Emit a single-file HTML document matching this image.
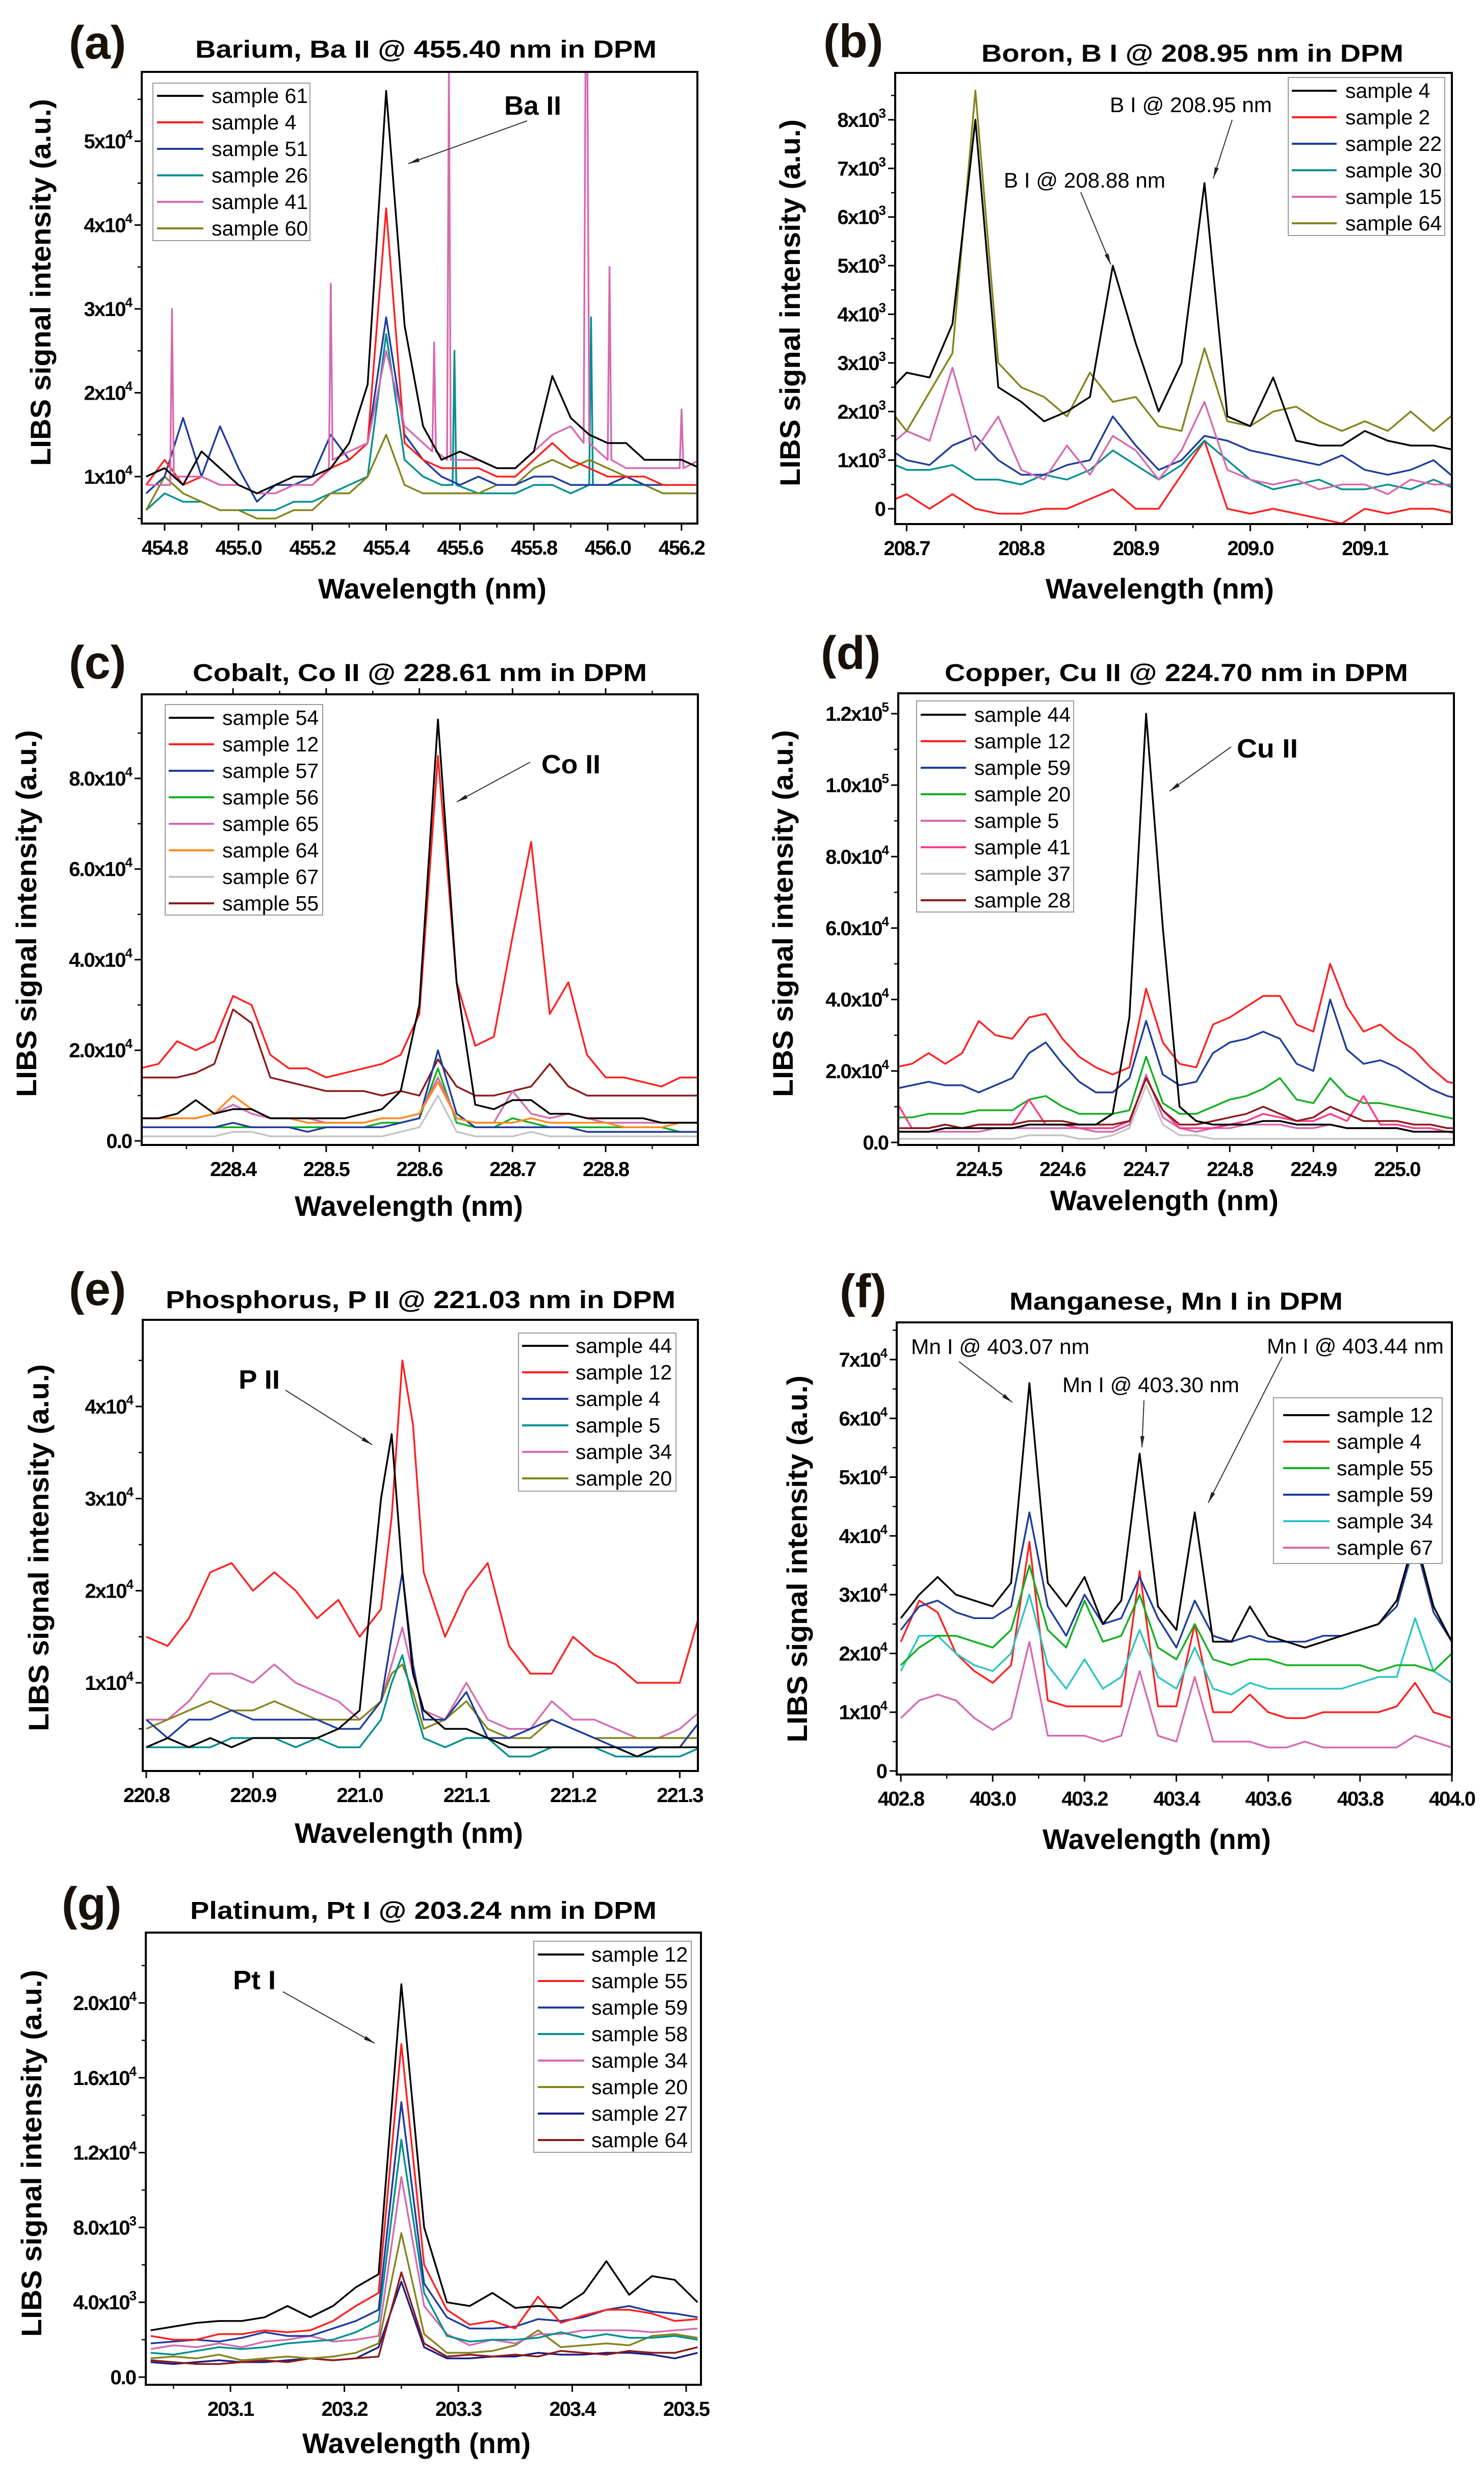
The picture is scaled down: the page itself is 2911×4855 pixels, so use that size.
<!DOCTYPE html>
<html><head><meta charset="utf-8"><style>
html,body{margin:0;padding:0;background:#fff}
svg{display:block}
text{font-family:"Liberation Sans",Arial,sans-serif}
</style></head><body>
<svg id="fig" width="2911" height="4855" viewBox="0 0 2911 4855" xmlns="http://www.w3.org/2000/svg"></svg>
<script>
// ---------- DATA ----------
// Panel a: Barium (x 1e3 units)
const aX=[454.75,454.80,454.85,454.90,454.95,455.00,455.05,455.10,455.15,455.20,455.25,455.30,455.35,455.40,455.45,455.50,455.55,455.60,455.65,455.70,455.75,455.80,455.85,455.90,455.95,456.00,456.05,456.10,456.15,456.20,456.25];
const aNames=["sample 61","sample 4","sample 51","sample 26","sample 41","sample 60"];
const aS61=[10,11,9,13,11,9,8,9,10,10,11,14,21,56,28,16,12,13,12,11,11,13,22,17,15,14,14,12,12,12,11];
const aS4=[9,12,9,10,9,9,8,8,9,9,11,12,14,42,14,12,11,11,11,10,10,12,14,12,11,10,10,10,9,9,9];
const aS51=[8,10,17,10,16,11,7,9,9,10,15,12,14,29,15,12,10,9,10,9,9,10,10,9,9,9,10,9,9,9,9];
const aX26=[454.75,454.80,454.85,454.90,454.95,455.00,455.05,455.10,455.15,455.20,455.25,455.30,455.35,455.40,455.45,455.50,455.55,455.58,455.585,455.59,455.65,455.70,455.75,455.80,455.85,455.90,455.95,455.955,455.96,456.00,456.05,456.10,456.15,456.20,456.25];
const aS26=[6,8,7,7,6,6,6,6,7,7,8,9,10,27,12,10,9,9,25,9,8,8,8,9,9,8,9,29,9,9,9,9,8,8,8];
const aX41=[454.75,454.815,454.82,454.825,454.85,454.90,454.95,455.00,455.05,455.10,455.15,455.20,455.245,455.25,455.255,455.30,455.35,455.40,455.45,455.50,455.525,455.53,455.535,455.565,455.57,455.575,455.60,455.65,455.70,455.75,455.80,455.85,455.90,455.935,455.94,455.945,455.95,456.00,456.005,456.01,456.05,456.10,456.15,456.195,456.20,456.205,456.25];
const aS41=[9,9,30,10,10,10,9,9,8,8,9,9,11,33,12,13,14,25,16,14,13,26,13,12,60,12,12,12,11,11,13,15,16,14,60,60,14,12,35,12,11,11,11,11,18,11,12];
const aS60=[6,10,8,7,6,6,5,5,6,6,8,8,10,15,9,8,8,8,8,9,9,11,12,11,12,11,10,9,8,8,8];
const aYTicks=[10000,20000,30000,40000,50000];
const aYLabels=["1x10^4","2x10^4","3x10^4","4x10^4","5x10^4"];
const aXTicks=[454.8,455.0,455.2,455.4,455.6,455.8,456.0,456.2];
const aXLabels=["454.8","455.0","455.2","455.4","455.6","455.8","456.0","456.2"];
// Panel b: Boron (1e3 units)
const bX=[208.68,208.70,208.72,208.74,208.76,208.78,208.80,208.82,208.84,208.86,208.88,208.90,208.92,208.94,208.96,208.98,209.00,209.02,209.04,209.06,209.08,209.10,209.12,209.14,209.16,209.18];
const bNames=["sample 4","sample 2","sample 22","sample 30","sample 15","sample 64"];
const bS4=[2.3,2.8,2.7,3.8,8.0,2.5,2.2,1.8,2.0,2.3,5.0,3.4,2.0,3.0,6.7,1.9,1.7,2.7,1.4,1.3,1.3,1.6,1.4,1.3,1.3,1.2];
const bS2=[0.1,0.3,0.0,0.3,0.0,-0.1,-0.1,0.0,0.0,0.2,0.4,0.0,0.0,0.7,1.4,0.0,-0.1,0.0,-0.1,-0.2,-0.3,0.0,-0.1,0.0,0.0,-0.1];
const bS22=[1.3,1.0,0.9,1.3,1.5,1.0,0.7,0.7,0.9,1.0,1.9,1.3,0.8,1.0,1.5,1.4,1.2,1.1,1.0,0.9,1.1,0.8,0.7,0.8,1.0,0.6];
const bS30=[1.0,0.8,0.8,0.9,0.6,0.6,0.5,0.7,0.6,0.8,1.2,0.9,0.6,0.9,1.4,1.0,0.6,0.4,0.5,0.6,0.4,0.4,0.5,0.4,0.6,0.4];
const bS15=[1.2,1.6,1.4,2.9,1.2,1.9,0.8,0.6,1.3,0.7,1.5,1.2,0.6,1.2,2.2,0.8,0.6,0.5,0.6,0.4,0.5,0.5,0.3,0.6,0.5,0.5];
const bS64=[2.2,1.6,2.4,3.2,8.6,3.0,2.5,2.3,1.9,2.8,2.2,2.3,1.7,1.6,3.3,1.8,1.7,2.0,2.1,1.8,1.6,1.8,1.6,2.0,1.6,2.0];
const bYTicks=[0,1000,2000,3000,4000,5000,6000,7000,8000];
const bYLabels=["0","1x10^3","2x10^3","3x10^3","4x10^3","5x10^3","6x10^3","7x10^3","8x10^3"];
const bXTicks=[208.7,208.8,208.9,209.0,209.1];
const bXLabels=["208.7","208.8","208.9","209.0","209.1"];
// Panel c: Cobalt (1e4 units)
const cX=[228.30,228.32,228.34,228.36,228.38,228.40,228.42,228.44,228.46,228.48,228.50,228.52,228.54,228.56,228.58,228.60,228.62,228.64,228.66,228.68,228.70,228.72,228.74,228.76,228.78,228.80,228.82,228.84,228.86,228.88,228.90];
const cNames=["sample 54","sample 12","sample 57","sample 56","sample 65","sample 64","sample 67","sample 55"];
const cS54=[0.5,0.5,0.6,0.9,0.6,0.7,0.7,0.5,0.5,0.5,0.5,0.5,0.6,0.7,1.1,3.0,9.3,3.5,0.8,0.7,0.9,0.9,0.6,0.6,0.5,0.5,0.5,0.5,0.4,0.4,0.4];
const cS12=[1.6,1.7,2.2,2.0,2.2,3.2,3.0,1.9,1.6,1.6,1.4,1.5,1.6,1.7,1.9,2.8,8.5,3.5,2.1,2.3,4.5,6.6,2.8,3.5,1.9,1.4,1.4,1.3,1.2,1.4,1.4];
const cS57=[0.3,0.3,0.3,0.3,0.3,0.4,0.3,0.3,0.3,0.2,0.3,0.3,0.3,0.3,0.4,0.5,2.0,0.6,0.3,0.3,0.3,0.3,0.3,0.3,0.2,0.2,0.2,0.2,0.2,0.2,0.2];
const cS56=[0.3,0.3,0.3,0.3,0.3,0.3,0.3,0.3,0.3,0.3,0.3,0.3,0.3,0.4,0.4,0.5,1.6,0.4,0.3,0.3,0.5,0.4,0.3,0.3,0.3,0.3,0.3,0.3,0.3,0.2,0.2];
const cS65=[0.5,0.5,0.5,0.5,0.6,0.8,0.6,0.5,0.5,0.5,0.4,0.4,0.4,0.5,0.5,0.6,1.4,0.5,0.4,0.4,1.1,0.6,0.5,0.6,0.5,0.4,0.4,0.4,0.4,0.4,0.4];
const cS64=[0.5,0.5,0.5,0.5,0.6,1.0,0.7,0.5,0.5,0.4,0.4,0.4,0.4,0.5,0.5,0.6,1.3,0.5,0.4,0.4,0.4,0.5,0.4,0.4,0.4,0.4,0.3,0.3,0.3,0.4,0.4];
const cS67=[0.1,0.1,0.1,0.1,0.1,0.2,0.2,0.1,0.1,0.1,0.1,0.1,0.1,0.1,0.2,0.3,1.0,0.2,0.1,0.1,0.1,0.2,0.1,0.1,0.1,0.1,0.1,0.1,0.1,0.1,0.1];
const cS55=[1.4,1.4,1.4,1.5,1.7,2.9,2.6,1.4,1.3,1.2,1.1,1.1,1.1,1.0,1.1,1.0,1.8,1.2,1.0,1.0,1.1,1.2,1.7,1.2,1.0,1.0,1.0,1.0,1.0,1.0,1.0];
const cYTicks=[0,20000,40000,60000,80000];
const cYLabels=["0.0","2.0x10^4","4.0x10^4","6.0x10^4","8.0x10^4"];
const cXTicks=[228.4,228.5,228.6,228.7,228.8];
const cXLabels=["228.4","228.5","228.6","228.7","228.8"];
// Panel d: Copper (1e4 units)
const dX=[224.40,224.42,224.44,224.46,224.48,224.50,224.52,224.54,224.56,224.58,224.60,224.62,224.64,224.66,224.68,224.70,224.72,224.74,224.76,224.78,224.80,224.82,224.84,224.86,224.88,224.90,224.92,224.94,224.96,224.98,225.00,225.02,225.04,225.06,225.08];
const dNames=["sample 44","sample 12","sample 59","sample 20","sample 5","sample 41","sample 37","sample 28"];
const dS44=[0.3,0.3,0.3,0.4,0.4,0.4,0.4,0.4,0.5,0.5,0.5,0.5,0.5,0.8,3.5,12.0,6.0,1.0,0.6,0.5,0.5,0.5,0.6,0.6,0.5,0.5,0.5,0.4,0.4,0.4,0.4,0.3,0.3,0.3,0.3];
const dS12=[2.1,2.2,2.5,2.2,2.5,3.4,3.0,2.9,3.5,3.6,2.9,2.4,2.1,1.9,2.1,4.3,2.8,2.2,2.1,3.3,3.5,3.8,4.1,4.1,3.3,3.1,5.0,3.8,3.1,3.3,2.9,2.6,2.1,1.7,1.6];
const dS59=[1.5,1.6,1.7,1.6,1.6,1.4,1.6,1.8,2.5,2.8,2.2,1.7,1.4,1.4,1.8,3.4,1.9,1.6,1.7,2.5,2.8,2.9,3.1,2.9,2.2,2.0,4.0,2.6,2.2,2.3,2.1,1.8,1.5,1.3,1.2];
const dS20=[0.7,0.7,0.8,0.8,0.8,0.9,0.9,0.9,1.2,1.3,1.0,0.8,0.8,0.8,0.9,2.4,1.1,0.8,0.8,1.0,1.2,1.3,1.5,1.8,1.2,1.1,1.8,1.3,1.1,1.1,1.0,0.9,0.8,0.7,0.6];
const dS5=[0.3,0.3,0.3,0.3,0.3,0.3,0.4,0.4,0.4,0.4,0.4,0.4,0.3,0.3,0.5,1.9,0.7,0.4,0.3,0.4,0.4,0.5,0.5,0.5,0.4,0.4,0.5,0.4,0.4,0.4,0.4,0.3,0.3,0.3,0.2];
const dS41=[1.2,0.4,0.4,0.5,0.4,0.5,0.5,0.5,1.2,0.5,0.5,0.4,0.4,0.4,0.6,1.8,0.9,0.4,0.4,0.4,0.5,0.6,0.8,0.7,0.6,0.6,0.8,0.6,1.3,0.5,0.5,0.4,0.4,0.3,0.3];
const dS37=[0.1,0.1,0.1,0.1,0.1,0.1,0.1,0.1,0.2,0.2,0.2,0.1,0.1,0.2,0.4,1.6,0.5,0.2,0.2,0.1,0.1,0.1,0.1,0.1,0.1,0.1,0.1,0.1,0.1,0.1,0.1,0.1,0.1,0.1,0.1];
const dS28=[0.4,0.4,0.4,0.5,0.4,0.5,0.5,0.5,0.6,0.6,0.6,0.5,0.5,0.5,0.6,1.8,0.9,0.5,0.5,0.6,0.7,0.8,1.0,0.8,0.6,0.7,1.0,0.8,0.6,0.6,0.6,0.5,0.5,0.4,0.4];
const dYTicks=[0,20000,40000,60000,80000,100000,120000];
const dYLabels=["0.0","2.0x10^4","4.0x10^4","6.0x10^4","8.0x10^4","1.0x10^5","1.2x10^5"];
const dXTicks=[224.5,224.6,224.7,224.8,224.9,225.0];
const dXLabels=["224.5","224.6","224.7","224.8","224.9","225.0"];
// Panel e: Phosphorus (1e4 units)
const eX=[220.80,220.82,220.84,220.86,220.88,220.90,220.92,220.94,220.96,220.98,221.00,221.02,221.03,221.04,221.05,221.06,221.08,221.10,221.12,221.14,221.16,221.18,221.20,221.22,221.24,221.26,221.28,221.30,221.32];
const eNames=["sample 44","sample 12","sample 4","sample 5","sample 34","sample 20"];
const eS44=[0.3,0.4,0.3,0.4,0.3,0.4,0.4,0.4,0.4,0.5,0.7,3.0,3.7,2.2,1.1,0.7,0.5,0.5,0.4,0.3,0.3,0.3,0.3,0.3,0.3,0.2,0.3,0.3,0.3];
const eS12=[1.5,1.4,1.7,2.2,2.3,2.0,2.2,2.0,1.7,1.9,1.5,1.8,2.8,4.5,3.8,2.2,1.5,2.0,2.3,1.4,1.1,1.1,1.5,1.3,1.2,1.0,1.0,1.0,1.8];
const eS4=[0.6,0.4,0.6,0.6,0.7,0.6,0.6,0.6,0.6,0.5,0.5,0.8,1.5,2.2,1.2,0.6,0.6,0.9,0.4,0.4,0.5,0.6,0.5,0.4,0.3,0.3,0.3,0.3,0.6];
const eS5=[0.3,0.3,0.3,0.3,0.4,0.4,0.4,0.3,0.4,0.3,0.3,0.6,1.0,1.3,0.8,0.4,0.3,0.4,0.4,0.2,0.2,0.3,0.3,0.3,0.2,0.2,0.2,0.2,0.3];
const eS34=[0.6,0.6,0.8,1.1,1.1,1.0,1.2,1.0,0.9,0.8,0.6,0.8,1.2,1.6,1.1,0.7,0.6,1.0,0.6,0.5,0.5,0.8,0.6,0.6,0.5,0.4,0.4,0.5,0.7];
const eS20=[0.5,0.6,0.7,0.8,0.7,0.7,0.8,0.7,0.6,0.6,0.6,0.8,1.1,1.2,0.9,0.5,0.6,0.8,0.5,0.4,0.4,0.6,0.5,0.4,0.4,0.4,0.4,0.4,0.4];
const eYTicks=[10000,20000,30000,40000];
const eYLabels=["1x10^4","2x10^4","3x10^4","4x10^4"];
const eXTicks=[220.8,220.9,221.0,221.1,221.2,221.3];
const eXLabels=["220.8","220.9","221.0","221.1","221.2","221.3"];
// Panel f: Manganese (1e4 units)
const fX=[402.80,402.84,402.88,402.92,402.96,403.00,403.04,403.08,403.12,403.16,403.20,403.24,403.28,403.32,403.36,403.40,403.44,403.48,403.52,403.56,403.60,403.64,403.68,403.72,403.76,403.80,403.84,403.88,403.92,403.96,404.00];
const fNames=["sample 12","sample 4","sample 55","sample 59","sample 34","sample 67"];
const fS12=[2.6,3.0,3.3,3.0,2.9,2.8,3.2,6.6,3.2,2.8,3.3,2.5,2.9,5.4,2.8,2.4,4.4,2.2,2.2,2.8,2.3,2.2,2.1,2.2,2.3,2.4,2.5,2.9,4.0,2.8,2.2];
const fS4=[2.2,2.9,2.7,2.0,1.7,1.5,1.8,3.9,1.2,1.1,1.1,1.1,1.1,3.4,1.1,1.1,2.5,1.0,1.0,1.3,1.0,0.9,0.9,1.0,1.0,1.0,1.0,1.1,1.5,1.0,0.9];
const fS55=[1.8,2.1,2.3,2.3,2.2,2.1,2.4,3.5,2.4,2.1,2.9,2.2,2.3,3.0,2.1,1.9,2.5,1.9,1.8,1.9,1.9,1.8,1.8,1.8,1.8,1.8,1.7,1.8,1.8,1.7,2.0];
const fS59=[2.4,2.8,2.9,2.7,2.6,2.6,2.8,4.4,2.8,2.3,3.0,2.5,2.6,3.3,2.6,2.1,2.9,2.3,2.2,2.3,2.2,2.2,2.2,2.3,2.3,2.4,2.5,2.8,3.9,2.7,2.2];
const fS34=[1.7,2.3,2.3,2.0,1.8,1.7,2.0,3.0,1.8,1.4,1.9,1.4,1.6,2.4,1.6,1.4,2.1,1.4,1.3,1.5,1.4,1.4,1.4,1.4,1.4,1.5,1.6,1.6,2.6,1.7,1.5];
const fS67=[0.9,1.2,1.3,1.2,0.9,0.7,0.9,2.2,0.6,0.6,0.6,0.5,0.6,1.7,0.6,0.5,1.6,0.5,0.5,0.5,0.4,0.4,0.5,0.4,0.4,0.4,0.4,0.4,0.6,0.5,0.4];
const fYTicks=[0,10000,20000,30000,40000,50000,60000,70000];
const fYLabels=["0","1x10^4","2x10^4","3x10^4","4x10^4","5x10^4","6x10^4","7x10^4"];
const fXTicks=[402.8,403.0,403.2,403.4,403.6,403.8,404.0];
const fXLabels=["402.8","403.0","403.2","403.4","403.6","403.8","404.0"];
// Panel g: Platinum (1e3 units)
const gX=[203.03,203.05,203.07,203.09,203.11,203.13,203.15,203.17,203.19,203.21,203.23,203.25,203.27,203.29,203.31,203.33,203.35,203.37,203.39,203.41,203.43,203.45,203.47,203.49,203.51];
const gNames=["sample 12","sample 55","sample 59","sample 58","sample 34","sample 20","sample 27","sample 64"];
const gS12=[2.5,2.7,2.9,3.0,3.0,3.2,3.8,3.2,3.8,4.8,5.5,21.0,8.0,4.0,3.8,4.5,3.7,3.8,3.7,4.5,6.2,4.4,5.4,5.2,4.0];
const gS55=[2.2,2.0,2.0,2.3,2.3,2.5,2.4,2.5,3.0,3.8,4.5,17.8,6.0,3.6,2.8,3.0,2.6,4.3,2.9,3.3,3.6,3.6,3.4,3.0,3.1];
const gS59=[1.8,1.9,2.0,1.9,2.1,2.4,2.2,2.2,2.6,3.0,3.6,14.7,5.0,3.2,2.6,2.6,2.7,3.1,3.0,3.2,3.6,3.8,3.5,3.4,3.2];
const gS58=[1.3,1.2,1.4,1.6,1.5,1.6,1.8,1.9,2.0,2.4,3.0,12.7,4.5,2.2,1.9,2.0,2.0,2.1,2.4,2.1,2.3,2.1,2.1,2.2,2.0];
const gS34=[1.5,1.7,1.6,1.8,1.6,1.9,2.0,2.2,1.9,2.0,2.2,10.7,3.8,2.3,1.7,2.0,1.8,2.3,2.3,2.5,2.5,2.5,2.4,2.5,2.6];
const gS20=[1.0,1.1,1.0,1.2,0.9,1.0,1.1,1.0,1.1,1.3,1.8,7.7,2.3,1.3,1.3,1.4,1.7,2.5,1.6,1.7,1.8,1.7,2.2,2.3,2.1];
const gS27=[0.8,0.7,0.8,0.9,0.8,0.8,0.9,1.0,0.9,1.0,1.6,5.1,1.6,1.0,1.0,1.1,1.1,1.3,1.2,1.2,1.3,1.3,1.2,1.0,1.3];
const gS64=[0.9,0.8,0.7,0.7,0.8,0.9,0.8,1.0,0.9,1.0,1.1,5.6,1.8,1.1,1.2,1.1,1.2,1.1,1.4,1.3,1.2,1.4,1.3,1.3,1.6];
const gYTicks=[0,4000,8000,12000,16000,20000];
const gYLabels=["0.0","4.0x10^3","8.0x10^3","1.2x10^4","1.6x10^4","2.0x10^4"];
const gXTicks=[203.1,203.2,203.3,203.4,203.5];
const gXLabels=["203.1","203.2","203.3","203.4","203.5"];

// ---------- COLORS ----------
const K="#000000",R="#ff2020",B="#1f3c9c",T="#009090",P="#d66aae",O="#84841c",G="#10b020",OR="#ff8a1a",GR="#c4c4c4",DR="#8b1a1a",HP="#ff3a8c",CY="#2ec4c4",NV="#1c1c88";

// ---------- LAYOUT ----------
const panels=[
 {id:"a",L:278,R:1368,T:141,B:1027,x0:454.738,x1:456.243,y0:4400,y1:58270,unit:1000,
  x:aX,xs:[aX,aX,aX,aX26,aX41,aX],series:[aS61,aS4,aS51,aS26,aS41,aS60],names:aNames,colors:[K,R,B,T,P,O],order:[3,5,2,1,4,0],
  yt:aYTicks,yl:aYLabels,xt:aXTicks,xl:aXLabels,ymin:5000,xmin:0.1,
  title:"Barium, Ba II @ 455.40 nm in DPM",tx:383,tl:905,ty:113,lab:"(a)",lx:135,ly:115,
  ytx:79,yty:554,xtx:848,xty:1174,
  leg:{L:300,R:608,T:163,B:472,y0:188,lx0:308,lx1:399,tx:415},
  bold:[{t:"Ba II",x:989,y:225,w:112}],arrows:[[1034,237,801,321]],notes:[]},
 {id:"b",L:1756,R:2848,T:143,B:1028,x0:208.690,x1:209.176,y0:-314,y1:8964,unit:1000,
  x:bX,series:[bS4,bS2,bS22,bS30,bS15,bS64],names:bNames,colors:[K,R,B,T,P,O],order:[1,3,2,4,5,0],
  yt:bYTicks,yl:bYLabels,xt:bXTicks,xl:bXLabels,ymin:500,xmin:0.05,
  title:"Boron, B I @ 208.95 nm in DPM",tx:1925,tl:828,ty:121,lab:"(b)",lx:1615,ly:112,
  ytx:1549,yty:594,xtx:2275,xty:1174,
  leg:{L:2527,R:2834,T:152,B:462,y0:178,lx0:2534,lx1:2622,tx:2639},
  bold:[],arrows:[[2417,235,2380,350],[2120,377,2179,519]],
  notes:[{t:"B I @ 208.95 nm",x:2177,y:220,w:318},{t:"B I @ 208.88 nm",x:1969,y:368,w:317}]},
 {id:"c",L:278,R:1369,T:1362,B:2246,x0:228.302,x1:228.899,y0:-900,y1:98560,unit:10000,
  x:cX,series:[cS54,cS12,cS57,cS56,cS65,cS64,cS67,cS55],names:cNames,colors:[K,R,B,G,P,OR,GR,DR],order:[7,1,6,3,2,4,5,0],
  yt:cYTicks,yl:cYLabels,xt:cXTicks,xl:cXLabels,ymin:10000,xmin:0.05,topTicks:true,
  title:"Cobalt, Co II @ 228.61 nm in DPM",tx:378,tl:891,ty:1336,lab:"(c)",lx:135,ly:1331,
  ytx:51,yty:1792,xtx:802,xty:2385,
  leg:{L:324,R:633,T:1382,B:1795,y0:1408,lx0:331,lx1:420,tx:436},
  bold:[{t:"Co II",x:1062,y:1517,w:116}],arrows:[[1040,1495,896,1573]],notes:[]},
 {id:"d",L:1762,R:2852,T:1360,B:2246,x0:224.4037,x1:225.068,y0:-713,y1:125700,unit:10000,
  x:dX,series:[dS44,dS12,dS59,dS20,dS5,dS41,dS37,dS28],names:dNames,colors:[K,R,B,G,P,HP,GR,DR],order:[6,1,2,3,4,5,7,0],
  yt:dYTicks,yl:dYLabels,xt:dXTicks,xl:dXLabels,ymin:10000,xmin:0.05,
  title:"Copper, Cu II @ 224.70 nm in DPM",tx:1853,tl:909,ty:1336,lab:"(d)",lx:1610,ly:1312,
  ytx:1535,yty:1792,xtx:2284,xty:2374,
  leg:{L:1798,R:2106,T:1375,B:1789,y0:1402,lx0:1806,lx1:1895,tx:1911},
  bold:[{t:"Cu II",x:2426,y:1486,w:120}],arrows:[[2415,1465,2294,1552]],notes:[]},
 {id:"e",L:280,R:1369,T:2589,B:3474,x0:220.7967,x1:221.317,y0:426,y1:49408,unit:10000,
  x:eX,series:[eS44,eS12,eS4,eS5,eS34,eS20],names:eNames,colors:[K,R,B,T,P,O],order:[1,4,5,2,3,0],
  yt:eYTicks,yl:eYLabels,xt:eXTicks,xl:eXLabels,ymin:5000,xmin:0.05,
  title:"Phosphorus, P II @ 221.03 nm in DPM",tx:325,tl:1000,ty:2566,lab:"(e)",lx:135,ly:2560,
  ytx:75,yty:3036,xtx:802,xty:3615,
  leg:{L:1017,R:1326,T:2615,B:2925,y0:2640,lx0:1024,lx1:1115,tx:1129},
  bold:[{t:"P II",x:468,y:2724,w:81}],arrows:[[560,2727,730,2834]],notes:[]},
 {id:"f",L:1759,R:2848,T:2594,B:3481,x0:402.791,x1:404.0,y0:-607,y1:76330,unit:10000,
  x:fX,series:[fS12,fS4,fS55,fS59,fS34,fS67],names:fNames,colors:[K,R,G,B,CY,P],order:[5,1,4,2,3,0],
  yt:fYTicks,yl:fYLabels,xt:fXTicks,xl:fXLabels,ymin:5000,xmin:0.1,
  title:"Manganese, Mn I in DPM",tx:1980,tl:654,ty:2569,lab:"(f)",lx:1647,ly:2564,
  ytx:1563,yty:3058,xtx:2269,xty:3627,
  leg:{L:2498,R:2829,T:2742,B:3067,y0:2776,lx0:2517,lx1:2608,tx:2622},
  bold:[],arrows:[[1881,2671,1986,2751],[2244,2747,2240,2839],[2515,2662,2370,2948]],
  notes:[{t:"Mn I @ 403.07 nm",x:1787,y:2656,w:350},{t:"Mn I @ 403.30 nm",x:2084,y:2731,w:347},{t:"Mn I @ 403.44 nm",x:2485,y:2655,w:347}]},
 {id:"g",L:286,R:1375,T:3791,B:4678,x0:203.0257,x1:203.513,y0:-409,y1:23760,unit:1000,
  x:gX,series:[gS12,gS55,gS59,gS58,gS34,gS20,gS27,gS64],names:gNames,colors:[K,R,B,T,P,O,NV,DR],order:[6,7,5,4,3,2,1,0],
  yt:gYTicks,yl:gYLabels,xt:gXTicks,xl:gXLabels,ymin:2000,xmin:0.05,
  title:"Platinum, Pt I @ 203.24 nm in DPM",tx:373,tl:915,ty:3764,lab:"(g)",lx:121,ly:3766,
  ytx:61,yty:4224,xtx:817,xty:4812,
  leg:{L:1047,R:1356,T:3808,B:4222,y0:3834,lx0:1055,lx1:1146,tx:1160},
  bold:[{t:"Pt I",x:457,y:3902,w:84}],arrows:[[555,3907,735,4008]],notes:[]}
];

const NS="http://www.w3.org/2000/svg";
const svg=document.getElementById("fig");
function mk(tag,attrs,parent){const e=document.createElementNS(NS,tag);for(const k in attrs)e.setAttribute(k,attrs[k]);(parent||svg).appendChild(e);return e;}
const defs=mk("defs",{});
const mkr=mk("marker",{id:"arr",markerWidth:"26",markerHeight:"10",refX:"22",refY:"4",orient:"auto",markerUnits:"userSpaceOnUse"},defs);
mk("path",{d:"M0,0 L22,4 L0,8 z",fill:"#222"},mkr);

function fmtTick(g,lbl,x,y){
  const t=mk("text",{x:x,y:y,"text-anchor":"end","font-size":"40","font-weight":"bold","letter-spacing":"-2"},g);
  
  
  const parts=lbl.split("^");
  if(parts.length===1){t.textContent=parts[0];return;}
  const a=mk("tspan",{},t);a.textContent=parts[0];
  const b=mk("tspan",{"font-size":"26",dy:"-18"},t);b.textContent=parts[1];
}

panels.forEach(p=>{
  const g=mk("g",{});
  
  
  const sx=v=>p.L+(v-p.x0)/(p.x1-p.x0)*(p.R-p.L);
  const sy=v=>p.B-(v-p.y0)/(p.y1-p.y0)*(p.B-p.T);
  const cp=mk("clipPath",{id:"clip"+p.id},defs);
  mk("rect",{x:p.L,y:p.T,width:p.R-p.L,height:p.B-p.T},cp);
  const pl=mk("text",{x:p.lx,y:p.ly,"font-size":"92","font-weight":"bold",fill:"#1a1208"},g);
  pl.textContent=p.lab;
  const tt=mk("text",{x:p.tx,y:p.ty,"font-size":"48","font-weight":"bold",textLength:p.tl,lengthAdjust:"spacingAndGlyphs"},g);
  tt.textContent=p.title;
  const yt=mk("text",{x:0,y:0,"font-size":"56","font-weight":"bold","text-anchor":"middle",textLength:"720",lengthAdjust:"spacingAndGlyphs",transform:`translate(${p.ytx+20},${p.yty}) rotate(-90)`},g);
  yt.textContent="LIBS signal intensity (a.u.)";
  const xt=mk("text",{x:p.xtx,y:p.xty,"font-size":"56","font-weight":"bold","text-anchor":"middle",textLength:"448",lengthAdjust:"spacingAndGlyphs"},g);
  xt.textContent="Wavelength (nm)";
  const sg=mk("g",{"clip-path":`url(#clip${p.id})`},g);
  
  p.order.forEach(i=>{
    const ys=p.series[i];
    const xs=p.xs?p.xs[i]:p.x;
    const d=ys.map((v,k)=>(k?"L":"M")+sx(xs[k]).toFixed(1)+","+sy(v*p.unit).toFixed(1)).join(" ");
    const pa=mk("path",{d:d,fill:"none",stroke:p.colors[i],"stroke-width":"3.5","stroke-linejoin":"round"},sg);
    
    
  });
  const fr=mk("rect",{x:p.L,y:p.T,width:p.R-p.L,height:p.B-p.T,fill:"none",stroke:"#000","stroke-width":"4"},g);
  
  p.yt.forEach((v,i)=>{
    const y=sy(v);
    mk("line",{x1:p.L-14,x2:p.L,y1:y,y2:y,stroke:"#000","stroke-width":"3"},g);
    fmtTick(g,p.yl[i],p.L-20,y+14);
  });
  for(let v=p.yt[0]-p.ymin*Math.ceil((p.yt[0]-p.y0)/p.ymin);v<=p.y1;v+=p.ymin){
    if(v<p.y0)continue;const y=sy(v);
    mk("line",{x1:p.L-8,x2:p.L,y1:y,y2:y,stroke:"#000","stroke-width":"2.5"},g);
  }
  p.xt.forEach((v,i)=>{
    const x=sx(v);
    mk("line",{x1:x,x2:x,y1:p.B,y2:p.B+14,stroke:"#000","stroke-width":"3"},g);
    if(p.topTicks)mk("line",{x1:x,x2:x,y1:p.T,y2:p.T-12,stroke:"#000","stroke-width":"3"},g);
    const t=mk("text",{x:x,y:p.B+61,"text-anchor":"middle","font-size":"40","font-weight":"bold","letter-spacing":"-2"},g);
    t.textContent=p.xl[i];
  });
  for(let v=p.xt[0]-p.xmin*Math.ceil((p.xt[0]-p.x0)/p.xmin-1e-9);v<=p.x1+1e-9;v+=p.xmin){
    if(v<p.x0-1e-9)continue;const x=sx(v);
    mk("line",{x1:x,x2:x,y1:p.B,y2:p.B+8,stroke:"#000","stroke-width":"2.5"},g);
    if(p.topTicks)mk("line",{x1:x,x2:x,y1:p.T,y2:p.T-7,stroke:"#000","stroke-width":"2.5"},g);
  }
  const lg=mk("g",{},g);
  
  mk("rect",{x:p.leg.L,y:p.leg.T,width:p.leg.R-p.leg.L,height:p.leg.B-p.leg.T,fill:"#fff",stroke:"#999","stroke-width":"2"},lg);
  p.names.forEach((n,i)=>{
    const y=p.leg.y0+i*52;
    const ln=mk("line",{x1:p.leg.lx0,x2:p.leg.lx1,y1:y,y2:y,stroke:p.colors[i],"stroke-width":"4"},lg);
    
    const t=mk("text",{x:p.leg.tx,y:y+14,"font-size":"41"},lg);
    t.textContent=n;
  });
  p.bold.forEach(b=>{
    const t=mk("text",{x:b.x,y:b.y,"font-size":"52","font-weight":"bold",textLength:b.w,lengthAdjust:"spacingAndGlyphs"},g);
    t.textContent=b.t;
  });
  p.notes.forEach(b=>{
    const t=mk("text",{x:b.x,y:b.y,"font-size":"42",textLength:b.w,lengthAdjust:"spacingAndGlyphs"},g);
    t.textContent=b.t;
  });
  p.arrows.forEach(a=>{
    const l=mk("line",{x1:a[0],y1:a[1],x2:a[2],y2:a[3],stroke:"#333","stroke-width":"2","marker-end":"url(#arr)"},g);
    
  });
});
</script>
</body></html>
